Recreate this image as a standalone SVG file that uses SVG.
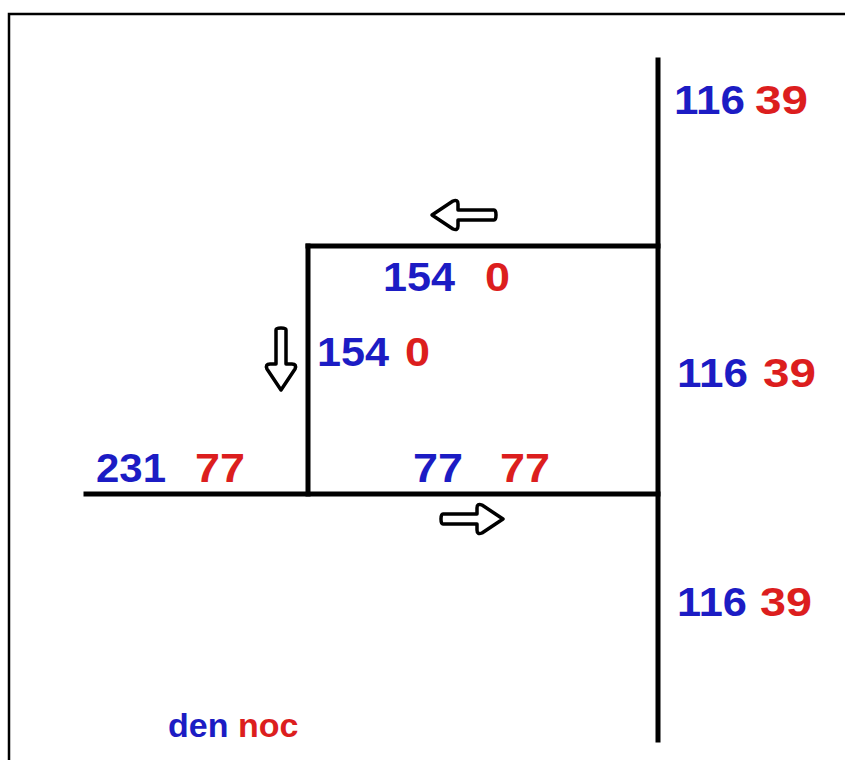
<svg xmlns="http://www.w3.org/2000/svg" width="845" height="760" viewBox="0 0 845 760">
<style>
.ln{stroke:#000;stroke-width:5;fill:none;stroke-linecap:square}
.fr{stroke:#000;stroke-width:2.5;fill:none}
.ar{stroke:#000;stroke-width:3.5;fill:#fff;stroke-linejoin:round}
.t{font-family:"Liberation Sans",Arial,sans-serif;font-weight:bold;font-size:41px}
.b{fill:#1c1cc4}
.r{fill:#dc1e1e}
.s{font-size:34px}
</style>
<rect width="845" height="760" fill="#fff"/>
<path class="fr" d="M9,762 V14 H850"/>
<g id="connectors">
<line class="ln" x1="658" y1="60" x2="658" y2="740"/>
<line class="ln" x1="308" y1="246" x2="658" y2="246"/>
<line class="ln" x1="308" y1="246" x2="308" y2="494"/>
<line class="ln" x1="86" y1="494" x2="658" y2="494"/>
</g>
<g id="arrows">
<path class="ar" d="M432,215 L453,201 Q458,199 458,204 L458,210 L494,210 Q496,210 496,215 Q496,220 494,220 L458,220 L458,226 Q458,231 453,229 Z"/>
<path class="ar" d="M503,519 L482,505 Q477,503 477,508 L477,514 L443,514 Q441,514 441,519 Q441,524 443,524 L477,524 L477,530 Q477,535 482,533 Z"/>
<path class="ar" d="M281,390 L267,369 Q265,364 270,364 L276,364 L276,330 Q276,328 281,328 Q286,328 286,330 L286,364 L292,364 Q297,364 295,369 Z"/>
</g>
<g id="label-top-right" class="t"><text x="674" y="114" class="b" textLength="71" lengthAdjust="spacingAndGlyphs">116</text><text x="755" y="114" class="r" textLength="53" lengthAdjust="spacingAndGlyphs">39</text></g>
<g id="label-top-branch" class="t"><text x="383" y="291" class="b" textLength="72" lengthAdjust="spacingAndGlyphs">154</text><text x="485" y="291" class="r" textLength="25" lengthAdjust="spacingAndGlyphs">0</text></g>
<g id="label-left-branch" class="t"><text x="317" y="366" class="b" textLength="72" lengthAdjust="spacingAndGlyphs">154</text><text x="405" y="366" class="r" textLength="25" lengthAdjust="spacingAndGlyphs">0</text></g>
<g id="label-mid-right" class="t"><text x="677" y="387" class="b" textLength="71" lengthAdjust="spacingAndGlyphs">116</text><text x="763" y="387" class="r" textLength="53" lengthAdjust="spacingAndGlyphs">39</text></g>
<g id="label-left" class="t"><text x="96" y="482" class="b" textLength="70" lengthAdjust="spacingAndGlyphs">231</text><text x="195" y="482" class="r" textLength="50" lengthAdjust="spacingAndGlyphs">77</text></g>
<g id="label-bottom-branch" class="t"><text x="413" y="482" class="b" textLength="50" lengthAdjust="spacingAndGlyphs">77</text><text x="500" y="482" class="r" textLength="50" lengthAdjust="spacingAndGlyphs">77</text></g>
<g id="label-bottom-right" class="t"><text x="677" y="616" class="b" textLength="70" lengthAdjust="spacingAndGlyphs">116</text><text x="760" y="616" class="r" textLength="52" lengthAdjust="spacingAndGlyphs">39</text></g>
<g id="legend" class="t s"><text x="168" y="737"><tspan class="b">den</tspan> <tspan class="r">noc</tspan></text></g>
</svg>
